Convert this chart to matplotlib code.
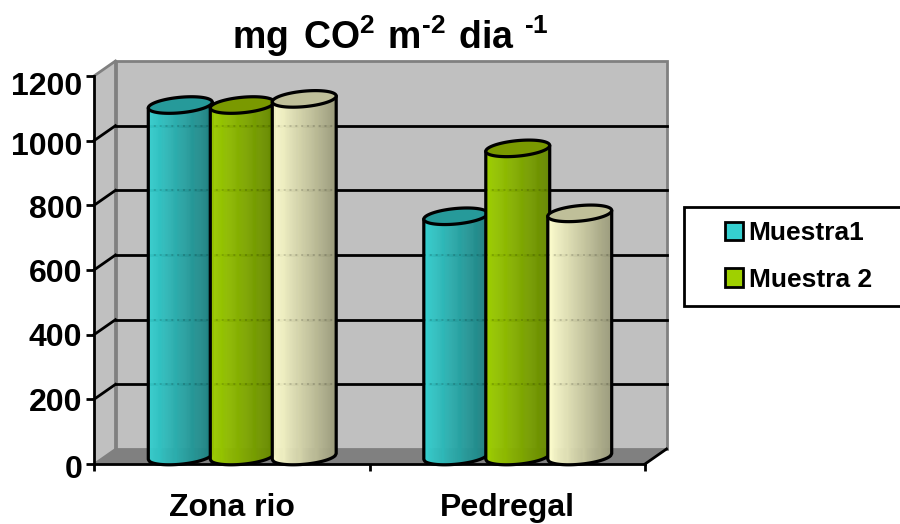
import numpy as np
import matplotlib
matplotlib.use("Agg")
import matplotlib.pyplot as plt
from matplotlib.patches import Patch, Polygon, Rectangle
from matplotlib.transforms import ScaledTranslation

categories = ["Zona rio", "Pedregal"]
muestra1 = [1087, 743]
muestra2 = [1087, 953]
muestra3 = [1106, 752]
y_ticks = [0, 200, 400, 600, 800, 1000, 1200]
legend_labels = ["Muestra1", "Muestra 2"]

# (light side, dark side, lid) per series
series_colors = [
    ("#35d0d0", "#1f8080", "#269a9a"),
    ("#9fd000", "#668800", "#7a9900"),
    ("#ffffcf", "#9c9c7c", "#bfbf99"),
]

plt.rcParams["font.family"] = "Liberation Sans"
plt.rcParams["font.weight"] = "bold"
plt.rcParams["mathtext.fontset"] = "custom"
plt.rcParams["mathtext.bf"] = "Liberation Sans:bold"
plt.rcParams["mathtext.rm"] = "Liberation Sans:bold"

fig = plt.figure(figsize=(9, 5.24), dpi=100)

# axes = front plane of the 3D box
ax = fig.add_axes([94 / 900, 60 / 524, 551 / 900, 388 / 524])
ax.set_xlim(0, 2)
ax.set_ylim(0, 1200)
ax.patch.set_visible(False)

back = ax.transData + ScaledTranslation(0.215, 0.15, fig.dpi_scale_trans)
mid = ax.transData + ScaledTranslation(0.105, 0.075, fig.dpi_scale_trans)

# walls and floor
wall_grey = "#c0c0c0"
edge_grey = "#808080"
ax.add_patch(Rectangle((0, 0), 2, 1200, transform=back, fc=wall_grey, ec=edge_grey, lw=2, zorder=1, clip_on=False))

# side wall, corners worked out from the back transform
to_ax = ax.transData.inverted()
bl = to_ax.transform(back.transform((0, 0)))
tl = to_ax.transform(back.transform((0, 1200)))
br = to_ax.transform(back.transform((2, 0)))
ax.add_patch(Polygon([(0, 0), bl, tl, (0, 1200)], fc=wall_grey, ec="none", zorder=1, clip_on=False))
ax.plot([0, tl[0]], [1200, tl[1]], color=edge_grey, lw=2, zorder=1.5, clip_on=False)
ax.add_patch(Polygon([(0, 0), bl, br, (2, 0)], fc=edge_grey, ec="none", zorder=1.2, clip_on=False))
ax.plot([bl[0], 0.0], [bl[1], 0], color=edge_grey, lw=1.5, zorder=1.3, clip_on=False)
ax.plot([2, br[0]], [0, br[1]], color="black", lw=2, zorder=1.5, clip_on=False)
ax.plot([bl[0], bl[0]], [bl[1], tl[1]], color=edge_grey, lw=2, zorder=1.5, clip_on=False)

# gridlines on the back wall and along the side wall
for v in y_ticks[1:-1]:
    ax.plot([0, 2], [v, v], transform=back, color="black", lw=2, zorder=2, clip_on=False)
    p = to_ax.transform(back.transform((0, v)))
    ax.plot([0, p[0]], [v, p[1]], color="black", lw=2, zorder=2, clip_on=False)

# cylinders
bar_step = 0.225
rx = 0.116
ry = 24
tilt = 9


def mix(c1, c2, t):
    a = np.array(matplotlib.colors.to_rgb(c1))
    b = np.array(matplotlib.colors.to_rgb(c2))
    return tuple(a + (b - a) * t)


def draw_cylinder(xc, value, colors, z):
    light, dark, lid = colors
    xs = np.linspace(-1, 1, 61)
    arc = np.sqrt(1 - xs ** 2)
    lower = -ry * arc + tilt * xs
    for i in range(len(xs) - 1):
        poly = [
            (xc + rx * xs[i], lower[i]),
            (xc + rx * xs[i + 1], lower[i + 1]),
            (xc + rx * xs[i + 1], value + lower[i + 1]),
            (xc + rx * xs[i], value + lower[i]),
        ]
        col = mix(light, dark, i / (len(xs) - 2))
        ax.add_patch(Polygon(poly, transform=mid, fc=col, ec=col, lw=0.4, zorder=z, clip_on=False))
    # faint marks where the gridlines show through
    for v in y_ticks[1:-1]:
        if v + 23 < value - ry:
            ax.plot([xc - rx, xc + rx], [v + 23, v + 23], transform=mid, color="black", alpha=0.15,
                    lw=1.4, ls=(0, (1, 2)), zorder=z + 0.1, clip_on=False)
    # outline of the body
    outline = [(xc - rx, value + tilt * -1)] + list(zip(xc + rx * xs, lower)) + [(xc + rx, value + tilt)]
    ox, oy = zip(*outline)
    ax.plot(ox, oy, transform=mid, color="black", lw=2.3, zorder=z + 0.2, clip_on=False, solid_capstyle="round")
    # lid
    t = np.linspace(0, 2 * np.pi, 100)
    lid_pts = np.column_stack([xc + rx * np.cos(t), value + ry * np.sin(t) + tilt * np.cos(t)])
    ax.add_patch(Polygon(lid_pts, transform=mid, fc=lid, ec="black", lw=2.3, zorder=z + 0.3, clip_on=False))


all_series = [muestra1, muestra2, muestra3]
for c in range(len(categories)):
    for s, vals in enumerate(all_series):
        draw_cylinder(c + 0.5 + (s - 1) * bar_step, vals[c], series_colors[s], 3 + s)

# axes
for name in ["top", "right"]:
    ax.spines[name].set_visible(False)
for name in ["left", "bottom"]:
    ax.spines[name].set_linewidth(2)
    ax.spines[name].set_zorder(2.5)
ax.set_yticks(y_ticks)
ax.set_xticks([0, 1, 2])
ax.set_xticklabels([])
ax.set_xticks([0.5, 1.5], minor=True)
ax.set_xticklabels(categories, minor=True, fontsize=23, fontweight="bold")
ax.tick_params(axis="x", which="major", length=5, width=2)
ax.tick_params(axis="x", which="minor", length=0, pad=21)
ax.tick_params(axis="y", length=5.5, width=2, labelsize=23, pad=3)

# the y labels sit slightly off their ticks in the original
label_shift = [3, 0, 0, 0, 1, 3, 8]
for lab, px in zip(ax.get_yticklabels(), label_shift):
    lab.set_transform(lab.get_transform() + ScaledTranslation(0, -px / 100, fig.dpi_scale_trans))

fig.text(390 / 900, 1 - 49 / 524,
         r"$\mathbf{mg\hspace{0.05}\ CO^2\hspace{0.15}\,m^{\text{-}2}\hspace{0.15}\,dia\hspace{0.12}\,^{\text{-}1}}$",
         ha="center", va="baseline", fontsize=27)

# legend box runs off the right side of the picture
fig.add_artist(Rectangle((684 / 900, 1 - 306 / 524), 240 / 900, 99 / 524, transform=fig.transFigure,
                         fc="white", ec="black", lw=2))
handles = [Patch(fc=series_colors[i][0], ec="black", lw=2) for i in range(2)]
fig.legend(handles, legend_labels, loc="center left", bbox_to_anchor=(725 / 900, 1 - 256.5 / 524),
           frameon=False, fontsize=19, handlelength=0.68, handleheight=0.68, handletextpad=0.22,
           labelspacing=0.85, borderpad=0, borderaxespad=0)

fig.savefig("out.png", dpi=100)
